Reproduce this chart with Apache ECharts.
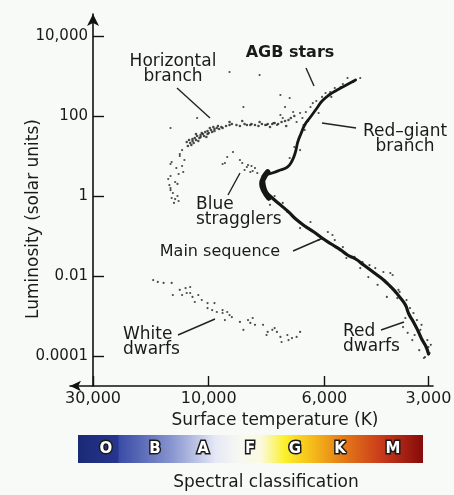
<!DOCTYPE html>
<html>
<head>
<meta charset="utf-8">
<script src="https://cdn.jsdelivr.net/npm/echarts@6/dist/echarts.min.js"></script>
<style>
html,body{margin:0;padding:0;background:#f8faf8;}
#chart{width:454px;height:495px;}
</style>
</head>
<body>
<div id="chart"></div>
<script>
// x values are positions on the (non-linear) temperature scale: 0 = 30,000 K, 1 = 10,000 K, 2 = 6,000 K, 2.9 = 3,000 K
var xTickValues = [0, 1, 2, 2.9];
var xTickLabels = ['30,000', '10,000', '6,000', '3,000'];
var yTickValues = [0.0001, 0.01, 1, 100, 10000];
var yTickLabels = ['0.0001', '0.01', '1', '100', '10,000'];
var spectralClasses = ['O', 'B', 'A', 'F', 'G', 'K', 'M'];

// ridge of the main sequence [temperature position, luminosity]
var mainSequenceRidge = [[1.47,3.16],[1.48,1.88],[1.50,1.26],[1.55,0.89],[1.62,0.60],[1.69,0.40],[1.75,0.27],[1.83,0.178],[1.91,0.126],[1.98,0.089],[2.06,0.063],[2.14,0.045],[2.20,0.0335],[2.27,0.0266],[2.34,0.0188],[2.41,0.0133],[2.48,0.0094],[2.54,0.0067],[2.60,0.0045],[2.65,0.0030],[2.70,0.0019],[2.73,0.00112],[2.77,0.00071],[2.81,0.00042],[2.84,0.00027],[2.88,0.000168],[2.90,0.000112]];
// turnoff knee (dense)
var turnoff = [[1.51,3.98],[1.48,2.99],[1.46,2.0],[1.48,1.33],[1.52,0.89]];
// subgiant + red-giant branch ridge
var redGiantRidge = [[1.49,3.35],[1.55,3.76],[1.62,4.47],[1.68,5.3],[1.72,7.5],[1.75,12.6],[1.77,22.4],[1.80,37.6],[1.83,59.6],[1.88,94.4],[1.93,150],[1.98,237],[2.04,335],[2.11,447],[2.19,596],[2.27,794]];
var horizontalBranch = [[0.81,22.4],[0.83,25.1],[0.84,21.1],[0.86,26.6],[0.86,23.7],[0.88,28.2],[0.89,25.1],[0.90,31.6],[0.92,28.2],[0.93,33.5],[0.93,29.9],[0.95,35.5],[0.96,31.6],[0.97,39.8],[0.99,35.5],[0.99,42.2],[1.00,37.6],[1.02,44.7],[1.03,39.8],[1.05,47.3],[1.05,42.2],[1.07,50.1],[1.09,47.3],[1.11,53.1],[1.12,50.1],[0.85,18.8],[0.87,21.1],[0.91,23.7],[0.94,37.6],[0.98,29.9],[1.01,50.1],[0.82,17.8],[0.89,35.5],[1.04,53.1],[1.08,56.2],[1.15,56.2],[1.18,59.6],[1.20,63.1],[1.24,59.6],[1.27,56.2],[1.31,63.1],[1.33,59.6],[1.36,59.6],[1.37,63.1],[1.40,59.6],[1.43,56.2],[1.46,63.1],[1.49,59.6],[1.51,63.1],[1.55,63.1],[1.57,66.8],[1.60,63.1],[1.63,70.8],[1.66,75],[1.69,79.4],[1.71,89],[1.74,100],[1.18,70.8],[1.29,75],[1.44,70.8],[1.53,53.1],[1.67,56.2]];
var blueTail = [[0.77,14.1],[0.75,11.2],[0.68,7.08],[0.67,6.31],[0.78,3.98],[0.74,3.55],[0.67,3.16],[0.71,2.24],[0.65,2.66],[0.67,1.58],[0.69,1.19],[0.73,1.0],[0.71,0.84],[0.74,0.75],[0.68,0.89],[0.75,10],[0.73,2.0],[0.79,7.94],[0.72,5.01],[0.67,1.41],[0.77,5.62],[0.70,0.67],[0.66,1.88]];
var blueStragglers = [[1.16,9.44],[1.14,6.68],[1.29,6.68],[1.33,5.31],[1.36,3.98],[1.40,5.01],[1.31,4.47],[1.42,3.76],[1.21,12.6],[1.12,6.31],[1.34,5.96],[1.38,4.22],[1.27,7.94],[1.37,5.62]];
var whiteDwarfs = [[0.52,0.0079],[0.56,0.0071],[0.61,0.0067],[0.68,0.0067],[0.75,0.0045],[0.77,0.00335],[0.81,0.00376],[0.84,0.00376],[0.84,0.00531],[0.86,0.0030],[0.91,0.00335],[0.88,0.00224],[0.94,0.00251],[0.99,0.00211],[1.05,0.00211],[0.99,0.00158],[1.03,0.00141],[1.07,0.00126],[1.12,0.00141],[1.12,0.00119],[1.16,0.00126],[1.18,0.00106],[1.20,0.00094],[1.14,0.00079],[1.27,0.00071],[1.34,0.00079],[1.36,0.00067],[1.38,0.00089],[1.40,0.0006],[1.30,0.00045],[1.47,0.0006],[1.51,0.0004],[1.55,0.00045],[1.57,0.0005],[1.59,0.0004],[1.50,0.000335],[1.62,0.0003],[1.68,0.000335],[1.72,0.00028],[1.76,0.0003],[1.79,0.0004],[1.63,0.000224],[1.69,0.00025],[0.69,0.00335],[0.80,0.005]];
var giants = [[2.20,891],[2.25,708],[2.31,891],[2.14,531],[2.09,501],[2.05,398],[2.01,376],[1.98,299],[1.62,335],[1.70,282],[1.90,211],[1.88,168],[1.66,168],[1.73,126],[1.79,119],[1.62,106],[1.64,89],[1.56,66.8],[1.59,59.6],[1.50,59.6],[1.81,89],[1.76,70.8],[1.82,59.6],[1.18,1259],[1.44,1059],[1.30,168],[0.90,89],[0.67,50.1],[1.95,119],[1.84,126],[2.16,631],[2.06,299],[1.93,237],[1.83,44.7],[1.86,75],[1.78,28.2],[1.74,16.8],[1.79,14.1],[1.70,8.91]];
var mainSequenceScatter = [[1.64,0.67],[1.68,0.40],[1.79,0.158],[2.03,0.126],[2.07,0.106],[2.09,0.079],[1.57,1.0],[1.53,0.60],[1.88,0.224],[1.95,0.079],[2.16,0.053],[2.19,0.0282],[2.26,0.030],[2.33,0.0224],[2.39,0.0188],[2.42,0.0126],[2.51,0.0126],[2.57,0.0119],[2.59,0.0106],[2.46,0.006],[2.57,0.0053],[2.61,0.004],[2.65,0.004],[2.54,0.003],[2.63,0.0028],[2.71,0.0025],[2.74,0.00158],[2.77,0.00119],[2.80,0.00079],[2.68,0.00053],[2.72,0.00038],[2.83,0.00045],[2.89,0.00025],[2.90,0.000168],[2.91,0.000119],[2.87,0.000094],[2.76,0.00025],[2.84,0.0006],[2.64,0.0045],[2.31,0.0158],[2.38,0.0094],[2.52,0.0079],[2.44,0.0158],[2.70,0.00089],[2.78,0.000335],[2.92,0.00019],[2.82,0.00014],[2.86,0.000089]];

var FONT = 'DejaVu Sans';
var INK = '#1a1a1a';

function labelFor(values, labels, v) {
  for (var i = 0; i < values.length; i++) {
    if (Math.abs(values[i] - v) < 1e-6 * Math.max(1, Math.abs(v)) ) return labels[i];
  }
  return '';
}

function dots(name, data, size) {
  return {
    type: 'scatter', name: name, data: data, symbolSize: size || 2.2,
    itemStyle: { color: '#1e1e1e' }, silent: true
  };
}
function ridge(name, data, width) {
  return {
    type: 'line', name: name, data: data, smooth: true, symbol: 'none',
    lineStyle: { color: '#161616', width: width, cap: 'round', join: 'round' }, silent: true
  };
}

function ann(text, x, y, opts) {
  opts = opts || {};
  return {
    type: 'text', x: x, y: y, silent: true, rotation: opts.rot || 0,
    style: {
      text: text, fill: INK, fontFamily: FONT,
      fontSize: opts.size || 17, fontWeight: opts.weight || 'normal',
      align: opts.align || 'center', verticalAlign: 'middle',
      lineHeight: opts.lh || 15
    }
  };
}
function lead(x1, y1, x2, y2) {
  return { type: 'line', silent: true, shape: { x1: x1, y1: y1, x2: x2, y2: y2 },
    style: { stroke: '#222', lineWidth: 1.4 } };
}

var letterX = [106, 155, 203, 250, 295, 340, 393];
var letters = spectralClasses.map(function (c, i) {
  return {
    type: 'text', x: letterX[i], y: 449, silent: true,
    style: { text: c, fill: '#ffffff', stroke: '#1a1a1a', lineWidth: 3,
      fontFamily: FONT, fontSize: 15, fontWeight: 'bold',
      align: 'center', verticalAlign: 'middle' }
  };
});

var chart = echarts.init(document.getElementById('chart'), null, { renderer: 'canvas' });
chart.setOption({
  animation: false,
  backgroundColor: '#f8faf8',
  grid: { left: 70, right: 21, top: 14, bottom: 109, containLabel: false, outerBoundsMode: 'none' },
  xAxis: {
    type: 'value', min: -0.199, max: 2.939,
    name: 'Surface temperature (K)', nameLocation: 'middle', nameGap: 22,
    nameTextStyle: { fontFamily: FONT, fontSize: 17, color: INK, padding: [0, 0, 0, 47] },
    axisLine: { onZero: false, symbol: ['arrow', 'none'], symbolSize: [8, 11],
      lineStyle: { color: '#111', width: 1.6 } },
    axisTick: { inside: true, length: 10, customValues: xTickValues,
      lineStyle: { color: '#111', width: 1.4 } },
    axisLabel: { customValues: xTickValues, margin: 5, fontFamily: FONT, fontSize: 16, color: INK,
      formatter: function (v) { return labelFor(xTickValues, xTickLabels, v); } },
    splitLine: { show: false }
  },
  yAxis: {
    type: 'log', logBase: 10, min: 1.778e-5, max: 35481,
    axisLine: { onZero: true, symbol: ['none', 'arrow'], symbolSize: [9, 12],
      lineStyle: { color: '#111', width: 1.6 } },
    axisTick: { inside: true, length: 11, customValues: yTickValues,
      lineStyle: { color: '#111', width: 1.4 } },
    axisLabel: { customValues: yTickValues, margin: -18, fontFamily: FONT, fontSize: 15, color: INK,
      formatter: function (v) { return labelFor(yTickValues, yTickLabels, v); } },
    splitLine: { show: false }
  },
  series: [
    ridge('Main sequence', mainSequenceRidge, 3.2),
    ridge('Red-giant branch', redGiantRidge, 2.8),
    ridge('Turnoff', turnoff, 5.5),
    dots('Horizontal branch', horizontalBranch, 2.6),
    dots('Blue horizontal branch', blueTail),
    dots('Blue stragglers', blueStragglers),
    dots('White dwarfs', whiteDwarfs),
    dots('Giants', giants),
    dots('Main-sequence stars', mainSequenceScatter)
  ],
  graphic: [
    { type: 'rect', silent: true, shape: { x: 78, y: 435, width: 345, height: 28 },
      style: { fill: new echarts.graphic.LinearGradient(0, 0, 1, 0, [
        { offset: 0, color: '#1b2a75' },
        { offset: 0.115, color: '#26368f' },
        { offset: 0.12, color: '#3a4ca6' },
        { offset: 0.27, color: '#8794cf' },
        { offset: 0.40, color: '#e6e9f6' },
        { offset: 0.47, color: '#f8f8f2' },
        { offset: 0.53, color: '#fbfae0' },
        { offset: 0.60, color: '#fbf02a' },
        { offset: 0.68, color: '#f5bb1a' },
        { offset: 0.77, color: '#e47a18' },
        { offset: 0.88, color: '#c93a1a' },
        { offset: 1, color: '#860b0b' }
      ]) } }
  ].concat(letters).concat([
    { type: 'text', x: 266, y: 483, silent: true,
      style: { text: 'Spectral classification', fill: INK, fontFamily: FONT, fontSize: 17,
        align: 'center', verticalAlign: 'middle' } },
    ann('Luminosity (solar units)', 34, 219, { rot: Math.PI / 2 }),
    ann('Horizontal\nbranch', 173, 69),
    lead(177, 88, 210, 118),
    ann('AGB stars', 290, 53, { size: 16, weight: 'bold' }),
    lead(306, 68, 314, 86),
    ann('Red\u2013giant\nbranch', 405, 139),
    lead(322, 123, 356, 128),
    ann('Blue\nstragglers', 196, 212, { align: 'left' }),
    lead(240, 173, 228, 195),
    ann('Main sequence', 220, 252, { size: 16 }),
    lead(293, 251, 323, 238),
    ann('White\ndwarfs', 123, 342, { align: 'left' }),
    lead(178, 335, 215, 319),
    ann('Red\ndwarfs', 343, 339, { align: 'left' }),
    lead(381, 330, 404, 322)
  ])
});
</script>
</body>
</html>
